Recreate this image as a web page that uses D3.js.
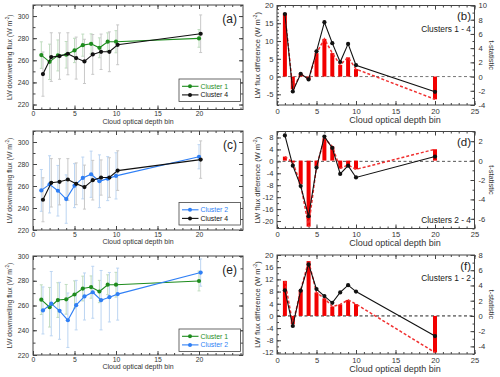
<!DOCTYPE html>
<html><head><meta charset="utf-8">
<script src="https://cdn.jsdelivr.net/npm/d3@7"></script>
<style>body{margin:0;background:#fff} svg{display:block;font-family:"Liberation Sans",Arial,sans-serif}</style>
</head><body><svg id="c" width="500" height="377"></svg>
<script>
// ---------- data ----------
const bins = [1,2,3,4,5,6,7,8,9,10,20];
const leftXTicks = [0,5,10,15,20];
const rightXTicks = [0,5,10,15,20,25];
const cluster1 = [264.7,258.6,264.4,265.0,268.9,273.7,274.9,271.3,276.8,276.8,279.8];
const cluster1Err = [12,16,14,12,11,10,9,9,8,10,8];
const cluster2 = [256.0,261.5,255.7,248.1,260.3,267.3,270.7,264.3,266.7,269.2,286.6];
const cluster2Err = [19,26,23,22,20,19,21,24,20,21,11];
const cluster4 = [247.5,262.9,263.8,265.9,262.0,259.0,265.3,267.7,267.7,274.0,284.0];
const cluster4Err = [20,22,21,19,19,20,18,16,18,18,17];
const diff14 = [17.6,-4.2,0.8,-0.8,7.1,15.3,9.4,4.1,9.2,3.2,-4.3];
const tstat14 = [8.9,-1.8,0.4,-0.4,3.3,5.3,3.3,1.65,2.7,1.05,-3.2];
const diff24 = [8.7,-1.45,-8.3,-18.4,-2.1,8.3,4.5,-4.2,-1.45,-5.4,1.6];
const tstat24 = [0.41,-0.2,-2.44,-6.8,-0.6,2.3,1.45,-0.8,-0.45,-0.9,1.17];
const diff12 = [8.4,-3.3,8.3,16.9,8.8,6.5,4.3,7.7,10.1,8.0,-6.6];
const tstat12 = [4.6,-1.1,3.4,7.2,3.08,2.3,1.24,1.5,2.1,1.55,-4.8];

const GREEN = "#1e8c1e", BLUE = "#2f7ff5", BLACK = "#111";
const C = {
  "Cluster 1": {v: cluster1, e: cluster1Err, color: GREEN, ec: "#bfdcbf"},
  "Cluster 2": {v: cluster2, e: cluster2Err, color: BLUE, ec: "#bcd5f2"},
  "Cluster 4": {v: cluster4, e: cluster4Err, color: BLACK, ec: "#c8c8c8"}
};

const svg = d3.select("#c");
const AX = "#444", TXT = "#333";
const fmt = d => String(d);
function range(a,b,s){const r=[];for(let v=a;v<=b+1e-9;v+=s)r.push(+v.toFixed(6));return r;}

function styleAxis(sel, fs){
  sel.select(".domain").remove();
  sel.selectAll("line").attr("stroke", AX);
  sel.selectAll("text").attr("fill", TXT).style("font-size", fs+"px").style("font-family","Liberation Sans, Arial, sans-serif");
}

function addAxis(g, axis, tx, ty, fs){
  const s = g.append("g").attr("transform",`translate(${tx},${ty})`).call(axis);
  styleAxis(s, fs); return s;
}

function yTitle(g, x, y, fs, main){
  const t = g.append("text").attr("transform",`translate(${x},${y}) rotate(-90)`)
    .attr("text-anchor","middle").attr("fill",TXT).style("font-size",fs+"px");
  t.append("tspan").text(main+" (W m");
  t.append("tspan").attr("dy",-fs*0.35).style("font-size",(fs*0.7)+"px").text("-2");
  t.append("tspan").attr("dy",fs*0.35).text(")");
}

function leftPanel(cfg){
  const {y0,y1,ydom,names,label,legY} = cfg;
  const x0=33, x1=243;
  const x = d3.scaleLinear().domain([0,25.3]).range([x0,x1]);
  const y = d3.scaleLinear().domain(ydom).range([y1,y0]);
  const g = svg.append("g");
  const yMaj = range(Math.ceil(ydom[0]/20)*20, ydom[1], 20);
  const yMin = range(Math.ceil(ydom[0]/10)*10, ydom[1], 10);
  const xMin = range(0,25,1);
  addAxis(g, d3.axisBottom(x).tickValues(xMin).tickSize(-2).tickFormat(""),0,y1,7);
  addAxis(g, d3.axisBottom(x).tickValues(leftXTicks).tickSize(-4).tickPadding(1.8).tickFormat(fmt),0,y1,6.8);
  addAxis(g, d3.axisTop(x).tickValues(xMin).tickSize(-2).tickFormat(""),0,y0,7);
  addAxis(g, d3.axisTop(x).tickValues(leftXTicks).tickSize(-4).tickFormat(""),0,y0,7);
  addAxis(g, d3.axisLeft(y).tickValues(yMin).tickSize(-2.5).tickFormat(""),x0,0,7);
  addAxis(g, d3.axisLeft(y).tickValues(yMaj).tickSize(-4).tickPadding(4).tickFormat(fmt),x0,0,6.8);
  addAxis(g, d3.axisRight(y).tickValues(yMin).tickSize(-2.5).tickFormat(""),x1,0,7);
  addAxis(g, d3.axisRight(y).tickValues(yMaj).tickSize(-4).tickFormat(""),x1,0,7);
  g.append("rect").attr("x",x0).attr("y",y0).attr("width",x1-x0).attr("height",y1-y0)
    .attr("fill","none").attr("stroke",AX).attr("stroke-width",1);
  // error bars
  names.forEach((n,si)=>{
    const s=C[n], off=si*0.2;
    bins.forEach((b,i)=>{
      const xx=x(b+off), ya=y(s.v[i]-s.e[i]), yb=y(s.v[i]+s.e[i]);
      g.append("line").attr("x1",xx).attr("x2",xx).attr("y1",ya).attr("y2",yb).attr("stroke",s.ec).attr("stroke-width",1);
      [ya,yb].forEach(yy=>g.append("line").attr("x1",xx-1.5).attr("x2",xx+1.5).attr("y1",yy).attr("y2",yy).attr("stroke",s.ec).attr("stroke-width",1));
    });
  });
  names.forEach((n,si)=>{
    const s=C[n], off=si*0.2;
    const line=d3.line().x((d,i)=>x(bins[i]+off)).y(d=>y(d));
    g.append("path").attr("d",line(s.v)).attr("fill","none").attr("stroke",s.color).attr("stroke-width",1.1);
    g.selectAll(null).data(s.v).enter().append("circle").attr("cx",(d,i)=>x(bins[i]+off)).attr("cy",d=>y(d)).attr("r",2.1).attr("fill",s.color);
  });
  // legend
  const lg = g.append("g");
  lg.append("rect").attr("x",179).attr("y",legY).attr("width",61.5).attr("height",22.5).attr("fill","#fff").attr("stroke",AX).attr("stroke-width",0.8);
  names.forEach((n,i)=>{
    const s=C[n], yy=legY+7.3+i*8.6;
    lg.append("line").attr("x1",182).attr("x2",198.5).attr("y1",yy).attr("y2",yy).attr("stroke",s.color).attr("stroke-width",1.1);
    lg.append("circle").attr("cx",190).attr("cy",yy).attr("r",2).attr("fill",s.color);
    lg.append("text").attr("x",200.5).attr("y",yy+2.4).attr("fill",s.color).style("font-size","6.9px").text(n);
  });
  g.append("text").attr("x",237).attr("y",y0+17.5).attr("text-anchor","end").attr("fill","#222").style("font-size","12px").text(label);
  yTitle(g, 11.5, (y0+y1)/2, 6.8, "LW downwelling flux");
  g.append("text").attr("x",138).attr("y",y1+14.2).attr("text-anchor","middle").attr("fill",TXT).style("font-size","7px").text("Cloud optical depth bin");
}

function rightPanel(cfg){
  const {y0,y1,ldom,rdom,diff,tstat,lMaj,lMinStep,rMaj,label,cl,clY,zeroColor} = cfg;
  const x0=277, x1=474.5;
  const x = d3.scaleLinear().domain([0,25]).range([x0,x1]);
  const yl = d3.scaleLinear().domain(ldom).range([y1,y0]);
  const yr = d3.scaleLinear().domain(rdom).range([y1,y0]);
  const g = svg.append("g");
  const xMin = range(0,25,1);
  const lMin = range(Math.ceil(ldom[0]/lMinStep)*lMinStep, ldom[1], lMinStep);
  const rMin = range(Math.ceil(rdom[0]), rdom[1], 1);
  addAxis(g, d3.axisBottom(x).tickValues(xMin).tickSize(-2).tickFormat(""),0,y1,7);
  addAxis(g, d3.axisBottom(x).tickValues(rightXTicks).tickSize(-4).tickPadding(3.5).tickFormat(fmt),0,y1,7.6);
  addAxis(g, d3.axisTop(x).tickValues(xMin).tickSize(-2).tickFormat(""),0,y0,7);
  addAxis(g, d3.axisTop(x).tickValues(rightXTicks).tickSize(-4).tickFormat(""),0,y0,7);
  addAxis(g, d3.axisLeft(yl).tickValues(lMin).tickSize(-2).tickFormat(""),x0,0,7);
  addAxis(g, d3.axisLeft(yl).tickValues(lMaj).tickSize(-4).tickPadding(3.5).tickFormat(fmt),x0,0,7.6);
  addAxis(g, d3.axisRight(yr).tickValues(rMin).tickSize(-2).tickFormat(""),x1,0,7);
  addAxis(g, d3.axisRight(yr).tickValues(rMaj).tickSize(-4).tickPadding(4).tickFormat(fmt),x1,0,7.6);
  g.append("rect").attr("x",x0).attr("y",y0).attr("width",x1-x0).attr("height",y1-y0)
    .attr("fill","none").attr("stroke",AX).attr("stroke-width",1);
  g.append("line").attr("x1",x0).attr("x2",x1).attr("y1",yl(0)).attr("y2",yl(0))
    .attr("stroke",zeroColor).attr("stroke-width",1).attr("stroke-dasharray","3,2.5");
  g.selectAll(null).data(tstat).enter().append("rect")
    .attr("x",(d,i)=>x(bins[i])-2).attr("width",4)
    .attr("y",d=>Math.min(yr(d),yr(0))).attr("height",d=>Math.abs(yr(d)-yr(0))).attr("fill","#f20000");
  const lr=d3.line().x((d,i)=>x(bins[i])).y(d=>yr(d));
  g.append("path").attr("d",lr(tstat)).attr("fill","none").attr("stroke","#f03030").attr("stroke-width",1.5).attr("stroke-dasharray","3,2");
  const ll=d3.line().x((d,i)=>x(bins[i])).y(d=>yl(d));
  g.append("path").attr("d",ll(diff)).attr("fill","none").attr("stroke",BLACK).attr("stroke-width",1.1);
  g.selectAll(null).data(diff).enter().append("circle").attr("cx",(d,i)=>x(bins[i])).attr("cy",d=>yl(d)).attr("r",2.1).attr("fill",BLACK);
  g.append("text").attr("x",471).attr("y",y0+14.5).attr("text-anchor","end").attr("fill","#222").style("font-size","11.5px").text(label);
  g.append("text").attr("x",471).attr("y",clY).attr("text-anchor","end").attr("fill","#222").style("font-size","8.4px").text(cl);
  yTitle(g, 259.5, (y0+y1)/2, 7.5, "LW flux difference");
  g.append("text").attr("transform",`translate(489,${(y0+y1)/2}) rotate(90)`).attr("text-anchor","middle")
    .attr("fill",TXT).style("font-size","7.5px").text("t-statistic");
  g.append("text").attr("x",395).attr("y",y1+17.5).attr("text-anchor","middle").attr("fill",TXT).style("font-size","9px").text("Cloud optical depth bin");
}

leftPanel({y0:5,y1:109.5,ydom:[215.5,310],names:["Cluster 1","Cluster 4"],label:"(a)",legY:79});
leftPanel({y0:131,y1:230,ydom:[220,310],names:["Cluster 2","Cluster 4"],label:"(c)",legY:202.5});
leftPanel({y0:256,y1:355,ydom:[220,300],names:["Cluster 1","Cluster 2"],label:"(e)",legY:329});

rightPanel({y0:5.5,y1:105,ldom:[-8,20],rdom:[-4,10],diff:diff14,tstat:tstat14,lMaj:[-5,0,5,10,15,20],lMinStep:1,rMaj:[-4,-2,0,2,4,6,8,10],label:"(b)",cl:"Clusters 1 - 4",clY:32,zeroColor:"#777"});
rightPanel({y0:131.5,y1:228.5,ldom:[-22.5,10],rdom:[-7,3],diff:diff24,tstat:tstat24,lMaj:[-20,-16,-12,-8,-4,0,4,8],lMinStep:2,rMaj:[-6,-4,-2,0,2],label:"(d)",cl:"Clusters 2 - 4",clY:223,zeroColor:"#555"});
rightPanel({y0:255,y1:354,ldom:[-12.5,20],rdom:[-5,8],diff:diff12,tstat:tstat12,lMaj:[-12,-8,-4,0,4,8,12,16,20],lMinStep:2,rMaj:[-4,-2,0,2,4,6,8],label:"(f)",cl:"Clusters 1 - 2",clY:281,zeroColor:"#222"});
</script></body></html>
